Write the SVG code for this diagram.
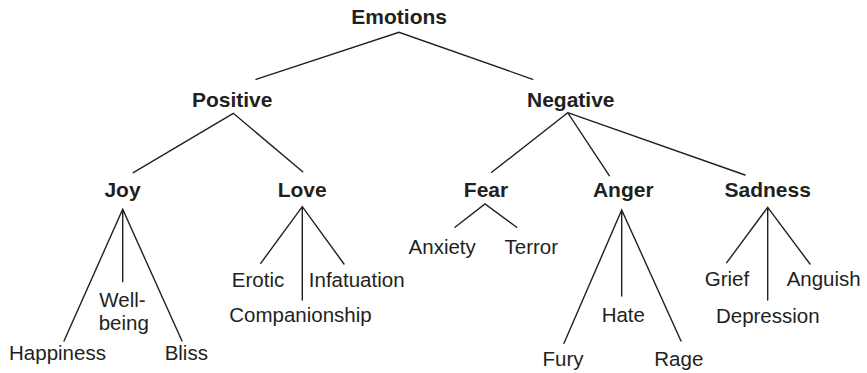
<svg xmlns="http://www.w3.org/2000/svg" width="867" height="373" viewBox="0 0 867 373">
  <style>
    .bg { fill: #ffffff; }
    .link { stroke: #231f20; stroke-width: 1.4; fill: none; stroke-linecap: round; }
    text { font-family: "Liberation Sans", Arial, Helvetica, sans-serif; fill: #231f20; text-anchor: middle; }
    .head { font-size: 21px; font-weight: bold; }
    .leaf { font-size: 20.5px; }
  </style>
  <rect class="bg" x="0" y="0" width="867" height="373"/>

  <!-- tree branches -->
  <g id="connectors">
    <path class="link" d="M256 79.3 L399 32.3 L532.7 79.3"/>
    <path class="link" d="M133.3 172.7 L233.3 113.3 L302.7 171.7"/>
    <path class="link" d="M491.7 172.3 L567.7 112.7 L609.3 175.7 M567.7 112.7 L745 175"/>
    <path class="link" d="M64 341 L122.7 209.3 L182 341 M122.7 209.3 L122.7 281.7"/>
    <path class="link" d="M260.7 263.3 L302.3 206.7 L344 264 M302.3 206.7 L302.3 300"/>
    <path class="link" d="M455 227.3 L485 204 L516.7 227.3"/>
    <path class="link" d="M564 343.3 L621.7 210 L681 341 M621.7 210 L621.7 296"/>
    <path class="link" d="M726.7 262.7 L767.7 207.3 L810 264 M767.7 207.3 L767.7 300"/>
  </g>

  <g id="emotions"><text class="head" x="399.2" y="23.5">Emotions</text></g>
  <g id="positive"><text class="head" x="232.2" y="106.7">Positive</text></g>
  <g id="negative"><text class="head" x="570.8" y="106.7">Negative</text></g>

  <g id="joy"><text class="head" x="122.5" y="197.3">Joy</text></g>
  <g id="love"><text class="head" x="302.2" y="197.3">Love</text></g>
  <g id="fear"><text class="head" x="486" y="197.3">Fear</text></g>
  <g id="anger"><text class="head" x="623.3" y="197.3">Anger</text></g>
  <g id="sadness"><text class="head" x="767.7" y="197.3">Sadness</text></g>

  <g id="happiness"><text class="leaf" x="57.5" y="360">Happiness</text></g>
  <g id="wellbeing"><text class="leaf" x="123" y="307"><tspan x="122.5">Well-</tspan><tspan x="123.8" y="330">being</tspan></text></g>
  <g id="bliss"><text class="leaf" x="186.3" y="360">Bliss</text></g>

  <g id="erotic"><text class="leaf" x="258" y="286.7">Erotic</text></g>
  <g id="companionship"><text class="leaf" x="300.5" y="321.7">Companionship</text></g>
  <g id="infatuation"><text class="leaf" x="356.7" y="286.7">Infatuation</text></g>

  <g id="anxiety"><text class="leaf" x="442.2" y="254">Anxiety</text></g>
  <g id="terror"><text class="leaf" x="531.3" y="254">Terror</text></g>

  <g id="fury"><text class="leaf" x="563" y="366">Fury</text></g>
  <g id="hate"><text class="leaf" x="623.3" y="321.7">Hate</text></g>
  <g id="rage"><text class="leaf" x="678.8" y="366">Rage</text></g>

  <g id="grief"><text class="leaf" x="727" y="285.7">Grief</text></g>
  <g id="depression"><text class="leaf" x="767.8" y="323.3">Depression</text></g>
  <g id="anguish"><text class="leaf" x="823.7" y="285.7">Anguish</text></g>
</svg>
